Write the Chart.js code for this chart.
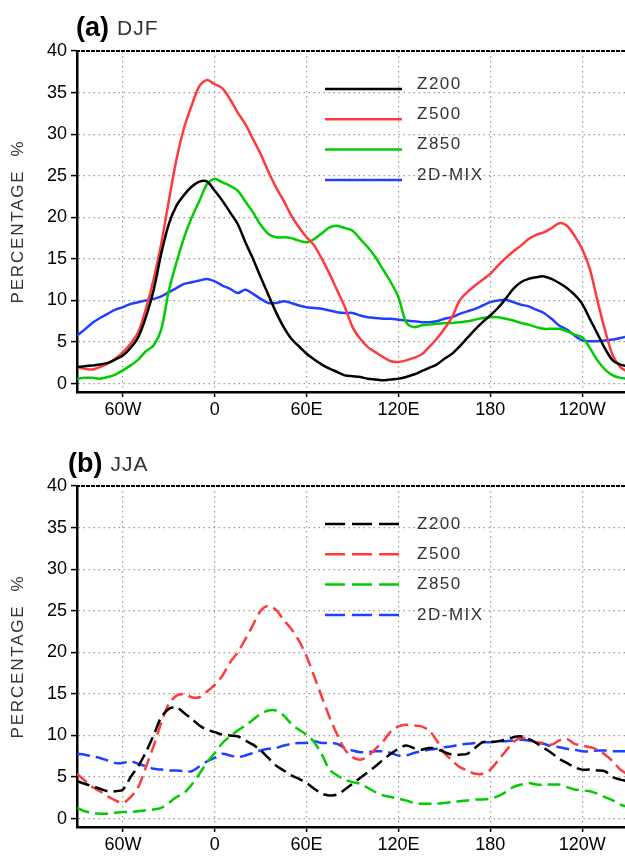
<!DOCTYPE html>
<html>
<head>
<meta charset="utf-8">
<script src="https://cdn.jsdelivr.net/npm/chart.js@4"></script>
<style>
  html, body { margin: 0; padding: 0; background: #fff; }
  #wrap { position: relative; width: 625px; height: 858px; }
  canvas { position: absolute; left: 0; }
</style>
</head>
<body>
<div id="wrap">
  <canvas id="djf" width="625" height="430" style="top:0px"></canvas>
  <canvas id="jja" width="625" height="428" style="top:430px"></canvas>
</div>
<script>
// longitude, degrees east (negative = west, >180 = west of dateline)
var lons = [-90, -85, -80, -75, -70, -65, -60, -55, -50, -45, -40, -35, -30, -25, -20, -15, -10, -5,
    0, 5, 10, 15, 20, 25, 30, 35, 40, 45, 50, 55, 60, 65, 70, 75, 80, 85,
    90, 95, 100, 105, 110, 115, 120, 125, 130, 135, 140, 145, 150, 155, 160, 165, 170, 175,
    180, 185, 190, 195, 200, 205, 210, 215, 220, 225, 230, 235, 240, 245, 250, 255, 260, 265, 270];

var xTicks = [-60, 0, 60, 120, 180, 240];
var xTickLabels = ['60W', '0', '60E', '120E', '180', '120W'];
var yTicks = [0, 5, 10, 15, 20, 25, 30, 35, 40];

var seriesNames = ['Z200', 'Z500', 'Z850', '2D-MIX'];
var seriesColors = ['#000000', '#ff3a3a', '#00cc00', '#2040ff'];

// (a) DJF
var djfZ200 = [2.0, 2.1, 2.2, 2.3, 2.5, 2.9, 3.4, 4.3, 5.6, 8.0, 11.2, 15.6, 19.2, 21.4, 22.7, 23.7, 24.3, 24.3,
    23.2, 22.0, 20.6, 19.2, 17.0, 15.0, 12.8, 10.7, 8.6, 6.8, 5.4, 4.5, 3.6, 2.9, 2.3, 1.8, 1.4, 1.0,
    0.9, 0.8, 0.6, 0.5, 0.4, 0.5, 0.6, 0.8, 1.1, 1.5, 1.9, 2.3, 3.0, 3.6, 4.5, 5.5, 6.5, 7.4,
    8.2, 9.1, 10.2, 11.4, 12.2, 12.6, 12.8, 12.9, 12.6, 12.1, 11.5, 10.7, 9.6, 7.8, 6.0, 4.2, 2.8, 2.3, 2.1];
var djfZ500 = [2.0, 1.8, 1.7, 2.0, 2.4, 3.0, 3.8, 4.8, 6.2, 9.0, 12.5, 16.8, 22.0, 27.0, 30.8, 33.5, 35.8, 36.5,
    36.0, 35.5, 34.2, 32.6, 31.2, 29.4, 27.6, 25.5, 23.6, 22.0, 20.2, 18.8, 17.6, 16.6, 15.0, 13.2, 11.2, 9.2,
    6.8, 5.4, 4.4, 3.8, 3.2, 2.7, 2.6, 2.8, 3.1, 3.5, 4.4, 5.4, 6.6, 8.0, 10.0, 11.0, 11.8, 12.5,
    13.2, 14.2, 15.1, 15.9, 16.6, 17.4, 17.9, 18.2, 18.7, 19.3, 19.0, 17.8, 16.2, 13.8, 10.0, 6.4, 3.4, 2.0, 1.4];
var djfZ850 = [0.6, 0.7, 0.7, 0.6, 0.8, 1.1, 1.6, 2.2, 2.9, 3.9, 4.6, 6.5, 11.2, 14.6, 17.6, 20.0, 22.0, 24.0,
    24.6, 24.2, 23.8, 23.2, 21.9, 20.6, 19.1, 18.0, 17.6, 17.6, 17.5, 17.2, 17.0, 17.4, 18.1, 18.8, 19.0, 18.7,
    18.4, 17.4, 16.4, 15.2, 13.7, 12.2, 10.4, 7.4, 6.8, 7.0, 7.1, 7.2, 7.3, 7.3, 7.4, 7.5, 7.7, 7.9,
    8.0, 8.0, 7.8, 7.6, 7.3, 7.1, 6.8, 6.6, 6.6, 6.6, 6.3, 5.9, 5.6, 4.3, 2.8, 1.7, 1.0, 0.7, 0.6];
var djfMix = [5.8, 6.5, 7.3, 7.9, 8.4, 8.9, 9.2, 9.6, 9.8, 10.0, 10.2, 10.5, 11.0, 11.5, 12.0, 12.2, 12.4, 12.6,
    12.3, 11.8, 11.4, 10.9, 11.3, 10.8, 10.2, 9.7, 9.7, 9.9, 9.7, 9.4, 9.2, 9.1, 9.0, 8.8, 8.6, 8.5,
    8.5, 8.2, 8.0, 7.9, 7.8, 7.8, 7.7, 7.6, 7.5, 7.4, 7.4, 7.5, 7.8, 8.0, 8.4, 8.7, 9.0, 9.4,
    9.8, 10.0, 10.1, 9.8, 9.5, 9.3, 8.9, 8.5, 7.8, 7.0, 6.5, 5.8, 5.2, 5.1, 5.1, 5.2, 5.3, 5.5, 5.7];

// (b) JJA
var jjaZ200 = [4.5, 4.2, 3.9, 3.6, 3.3, 3.3, 3.5, 5.0, 6.3, 8.0, 10.0, 12.2, 13.2, 13.4, 12.7, 12.0, 11.2, 10.7,
    10.4, 10.1, 10.0, 9.9, 9.4, 8.9, 8.2, 7.3, 6.4, 5.8, 5.2, 4.8, 4.3, 3.6, 3.0, 2.8, 2.9, 3.5,
    4.2, 4.9, 5.6, 6.3, 7.1, 7.8, 8.4, 8.8, 8.5, 8.3, 8.5, 8.4, 8.0, 7.7, 7.7, 7.8, 8.5, 9.2,
    9.2, 9.3, 9.5, 9.8, 9.9, 9.6, 9.1, 8.5, 7.9, 7.2, 6.7, 6.2, 5.9, 5.9, 5.8, 5.7, 5.0, 4.7, 4.5];
var jjaZ500 = [5.4, 4.6, 3.8, 3.3, 2.7, 2.2, 1.9, 2.6, 3.8, 6.2, 8.7, 11.5, 13.8, 14.8, 15.0, 14.6, 14.6, 15.3,
    16.1, 17.2, 18.8, 20.0, 21.6, 23.3, 25.0, 25.6, 25.1, 23.9, 22.8, 21.4, 19.5, 17.1, 14.6, 12.2, 10.1, 8.3,
    7.4, 7.1, 7.5, 8.4, 9.3, 10.5, 11.1, 11.3, 11.2, 11.1, 10.6, 9.4, 7.9, 7.0, 6.2, 5.8, 5.4, 5.4,
    5.9, 7.0, 8.1, 9.2, 9.7, 9.6, 9.2, 9.1, 8.9, 9.4, 9.6, 9.0, 8.8, 8.6, 8.3, 7.7, 6.9, 5.9, 5.3];
var jjaZ850 = [1.3, 0.9, 0.7, 0.6, 0.6, 0.7, 0.8, 0.8, 0.9, 1.0, 1.1, 1.3, 1.9, 2.6, 3.1, 4.1, 5.4, 6.8,
    7.9, 9.1, 9.9, 10.6, 11.2, 11.9, 12.6, 13.0, 13.0, 12.4, 11.4, 10.7, 10.1, 9.2, 7.7, 5.9, 5.2, 4.7,
    4.4, 4.2, 3.7, 3.2, 2.8, 2.6, 2.4, 2.2, 1.9, 1.8, 1.8, 1.8, 1.9, 2.0, 2.1, 2.2, 2.3, 2.3,
    2.4, 2.7, 3.2, 3.8, 4.1, 4.3, 4.1, 4.1, 4.1, 4.1, 3.8, 3.5, 3.4, 3.3, 3.0, 2.6, 2.2, 1.7, 1.4];
var jjaMix = [7.8, 7.7, 7.5, 7.3, 7.0, 6.7, 6.7, 6.9, 6.6, 6.3, 6.0, 5.9, 5.8, 5.8, 5.7, 5.7, 6.3, 6.9,
    7.3, 7.8, 7.6, 7.4, 7.6, 7.9, 8.2, 8.4, 8.5, 8.8, 9.0, 9.1, 9.1, 9.3, 9.1, 9.1, 9.0, 8.5,
    8.2, 8.0, 8.0, 8.1, 8.1, 7.9, 7.6, 7.6, 7.9, 8.1, 8.3, 8.4, 8.6, 8.7, 8.9, 9.0, 9.1, 9.2,
    9.2, 9.3, 9.3, 9.4, 9.5, 9.4, 9.2, 9.0, 8.7, 8.6, 8.4, 8.3, 8.1, 8.1, 8.2, 8.2, 8.1, 8.1, 8.1];

var FONT = '"Liberation Sans", Arial, sans-serif';

// titles, y label, black top frame and in-plot legend
var panelDecor = {
    id: 'panelDecor',
    afterDraw: function(chart, args, opts) {
        var ctx = chart.ctx;
        var area = chart.chartArea;

        ctx.save();
        // top frame line
        ctx.strokeStyle = '#000';
        ctx.lineWidth = 2;
        ctx.setLineDash([4, 1]);
        ctx.beginPath();
        ctx.moveTo(area.left - 1, area.top);
        ctx.lineTo(area.right, area.top);
        ctx.stroke();
        ctx.setLineDash([]);

        // panel title
        ctx.textBaseline = 'alphabetic';
        ctx.textAlign = 'left';
        ctx.fillStyle = '#000';
        ctx.font = 'bold 27px ' + FONT;
        ctx.fillText(opts.label, opts.labelX, opts.titleY);
        var w = ctx.measureText(opts.label).width;
        ctx.fillStyle = '#333';
        ctx.font = '21px ' + FONT;
        ctx.letterSpacing = '1px';
        ctx.fillText(opts.season, opts.labelX + w + 8, opts.titleY - 1);

        // y axis title
        ctx.save();
        ctx.translate(18, (area.top + area.bottom) / 2);
        ctx.rotate(-Math.PI / 2);
        ctx.textAlign = 'center';
        ctx.textBaseline = 'middle';
        ctx.font = '17px ' + FONT;
        ctx.letterSpacing = '1.8px';
        ctx.fillStyle = '#333';
        ctx.fillText('PERCENTAGE  %', 0, 0);
        ctx.restore();

        // legend
        ctx.lineWidth = 2.5;
        ctx.font = '17px ' + FONT;
        ctx.letterSpacing = '1.5px';
        ctx.textBaseline = 'middle';
        for (var i = 0; i < seriesNames.length; i++) {
            var y = area.top + 38 + i * 30.3;
            ctx.strokeStyle = seriesColors[i];
            ctx.setLineDash(opts.dash);
            ctx.beginPath();
            ctx.moveTo(325, y);
            ctx.lineTo(325 + opts.legendLen, y);
            ctx.stroke();
            ctx.setLineDash([]);
            ctx.fillStyle = '#333';
            ctx.fillText(seriesNames[i], 417, y + opts.textDy);
        }
        ctx.restore();
    }
};

function makeDatasets(list, dash) {
    var datasets = [];
    for (var i = 0; i < list.length; i++) {
        datasets.push({
            label: seriesNames[i],
            data: lons.map(function(x, k) { return {x: x, y: list[i][k]}; }),
            borderColor: seriesColors[i],
            backgroundColor: seriesColors[i],
            borderWidth: 2.5,
            borderDash: dash,
            pointRadius: 0,
            fill: false,
            tension: 0.3
        });
    }
    return datasets;
}

function makeChart(id, list, dash, decor, padTop, xHeight) {
    return new Chart(document.getElementById(id), {
        type: 'line',
        data: { datasets: makeDatasets(list, dash) },
        plugins: [panelDecor],
        options: {
            responsive: false,
            animation: false,
            devicePixelRatio: 1,
            layout: { padding: { top: padTop, left: 0, right: 0, bottom: 0 } },
            plugins: {
                legend: { display: false },
                tooltip: { enabled: false },
                panelDecor: decor
            },
            scales: {
                x: {
                    type: 'linear',
                    min: -90,
                    max: 268,
                    afterBuildTicks: function(s) { s.ticks = xTicks.map(function(v) { return {value: v}; }); },
                    afterFit: function(s) { s.height = xHeight; },
                    ticks: {
                        color: '#000',
                        font: { family: FONT, size: 18 },
                        padding: 2,
                        maxRotation: 0,
                        autoSkip: false,
                        callback: function(v) { return xTickLabels[xTicks.indexOf(v)]; }
                    },
                    grid: { color: '#999', lineWidth: 1.2, tickColor: '#000', tickLength: 5, tickWidth: 1.5 },
                    border: { color: '#000', width: 2.5, dash: [1.5, 3.5] }
                },
                y: {
                    min: -1,
                    max: 40,
                    afterBuildTicks: function(s) { s.ticks = yTicks.map(function(v) { return {value: v}; }); },
                    afterFit: function(s) { s.width = 77; },
                    ticks: {
                        color: '#000',
                        font: { family: FONT, size: 18 },
                        padding: 4
                    },
                    grid: { color: '#999', lineWidth: 1.2, tickColor: '#000', tickLength: 6, tickWidth: 1.5 },
                    border: { color: '#000', width: 2.5, dash: [1.5, 3.5] }
                }
            }
        }
    });
}

makeChart('djf', [djfZ200, djfZ500, djfZ850, djfMix], [],
    { label: '(a)', season: 'DJF', labelX: 76, titleY: 36, dash: [], legendLen: 77, textDy: -5 }, 51, 38);
makeChart('jja', [jjaZ200, jjaZ500, jjaZ850, jjaMix], [13, 6],
    { label: '(b)', season: 'JJA', labelX: 68, titleY: 42, dash: [20, 7], legendLen: 74, textDy: 0 }, 56, 31);
</script>
</body>
</html>
